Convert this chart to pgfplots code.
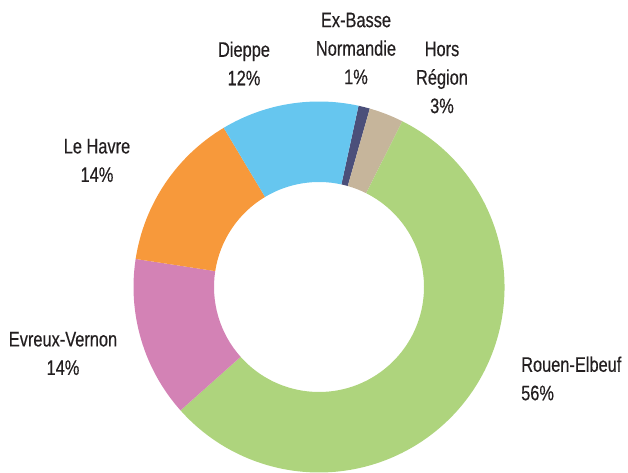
\documentclass[border=0pt]{standalone}
\usepackage{pgfplots}
\pgfplotsset{compat=1.18}
\usepackage{pgfplotstable}
\usepackage{fontspec}
\setmainfont{Liberation Sans}[FakeStretch=0.78, FakeBold=0.4]

\definecolor{cExBasse}{HTML}{4B4F7A}
\definecolor{cHors}{HTML}{C6B59B}
\definecolor{cRouen}{HTML}{AED47D}
\definecolor{cEvreux}{HTML}{D382B5}
\definecolor{cHavre}{HTML}{F7993B}
\definecolor{cDieppe}{HTML}{66C6EF}
\definecolor{txt}{HTML}{231F20}

% shares in %, clockwise from the Dieppe / Ex-Basse boundary
\pgfplotstableread[col sep=comma]{
name,value,color
Ex-Basse Normandie,1,cExBasse
Hors Région,3,cHors
Rouen-Elbeuf,56,cRouen
Evreux-Vernon,14,cEvreux
Le Havre,14,cHavre
Dieppe,12,cDieppe
}\slices

\begin{document}
\begin{tikzpicture}
% cumulative angles (start at 77.7 deg, going clockwise)
\xdef\cum{77.7}
\foreach \i in {0,...,5}{%
  \pgfplotstablegetelem{\i}{value}\of\slices
  \pgfmathsetmacro\endang{\cum-3.6*\pgfplotsretval}%
  \expandafter\xdef\csname sa\i\endcsname{\cum}%
  \expandafter\xdef\csname ea\i\endcsname{\endang}%
  \pgfplotstablegetelem{\i}{color}\of\slices
  \expandafter\xdef\csname col\i\endcsname{\pgfplotsretval}%
  \xdef\cum{\endang}%
}
\begin{axis}[
  x=1pt, y=1pt,
  xmin=0, xmax=628, ymin=0, ymax=473,
  hide axis, clip=false,
]
\coordinate (bl) at (axis cs:0,0);
\coordinate (tr) at (axis cs:628,473);
\pgfplotsinvokeforeach{0,...,5}{
  \fill[\csname col#1\endcsname, shift={(axis cs:319,186)}]
    (\csname sa#1\endcsname:185.5) arc[start angle=\csname sa#1\endcsname, end angle=\csname ea#1\endcsname, radius=185.5]
    -- (\csname ea#1\endcsname:105) arc[start angle=\csname ea#1\endcsname, end angle=\csname sa#1\endcsname, radius=105]
    -- cycle;
}
\tikzset{lbl/.style={text=txt, inner sep=0pt, font=\fontsize{21}{28.5}\selectfont}}
\node[lbl, align=center] at (axis cs:244,409.5) {Dieppe\\12\%};
\node[lbl, align=center] at (axis cs:356,424.5) {Ex-Basse\\Normandie\\1\%};
\node[lbl, align=center] at (axis cs:442,395.5) {Hors\\Région\\3\%};
\node[lbl, align=center] at (axis cs:97,312.5) {Le Havre\\14\%};
\node[lbl, align=center] at (axis cs:63,119.5) {Evreux-Vernon\\14\%};
\node[lbl, align=left, anchor=west] at (axis cs:521,94.5) {Rouen-Elbeuf\\56\%};
\end{axis}
\pgfresetboundingbox
\path (bl) rectangle (tr);
\end{tikzpicture}
\end{document}
